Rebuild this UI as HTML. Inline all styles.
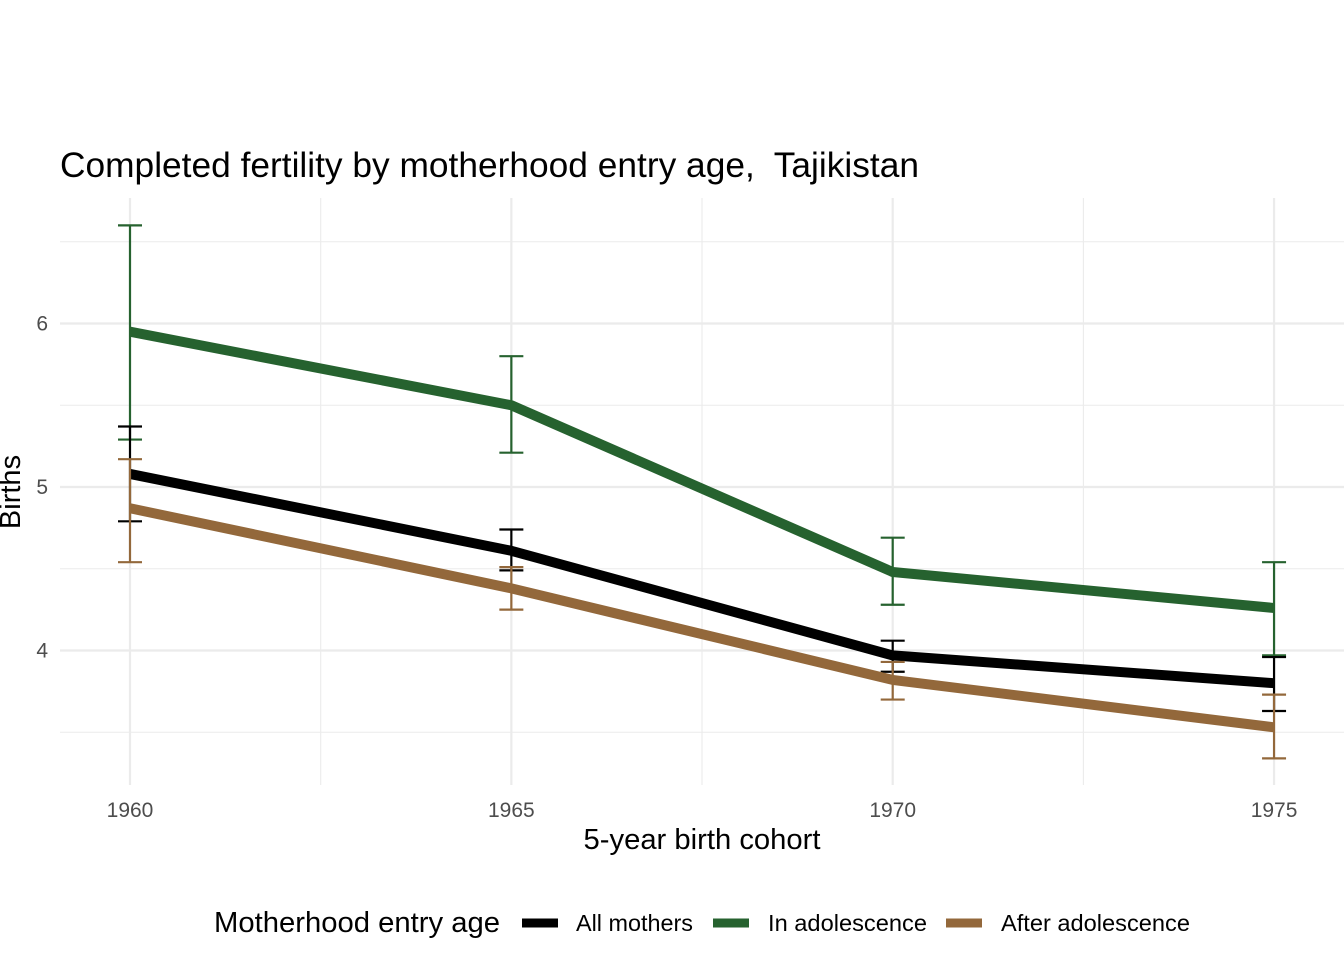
<!DOCTYPE html>
<html><head><meta charset="utf-8"><style>
body{margin:0;background:#fff;font-family:"Liberation Sans",Arial,sans-serif}
</style></head><body>
<svg id="chart" width="1344" height="960" xmlns="http://www.w3.org/2000/svg" font-family="Liberation Sans, Arial, sans-serif">
<rect width="1344" height="960" fill="#fff"/>
<text x="60" y="177" font-size="35.5" fill="#000" xml:space="preserve" textLength="859" lengthAdjust="spacingAndGlyphs">Completed fertility by motherhood entry age,  Tajikistan</text>
<g id="grid"></g>
<g id="marks"></g>
<g id="axes"></g>
<text x="702" y="849" font-size="29" text-anchor="middle" textLength="237" lengthAdjust="spacingAndGlyphs">5-year birth cohort</text>
<text transform="translate(20,492) rotate(-90)" font-size="29" text-anchor="middle">Births</text>
<g>
<text x="214" y="932" font-size="29" textLength="286" lengthAdjust="spacingAndGlyphs">Motherhood entry age</text>
<line x1="522" y1="923" x2="558" y2="923" stroke="#000" stroke-width="9"/>
<text x="576" y="931" font-size="23" textLength="117" lengthAdjust="spacingAndGlyphs">All mothers</text>
<line x1="713" y1="923" x2="749" y2="923" stroke="#26622f" stroke-width="9"/>
<text x="768" y="931" font-size="23" textLength="159" lengthAdjust="spacingAndGlyphs">In adolescence</text>
<line x1="946" y1="923" x2="982" y2="923" stroke="#93683b" stroke-width="9"/>
<text x="1001" y="931" font-size="23" textLength="189" lengthAdjust="spacingAndGlyphs">After adolescence</text>
</g>
</svg>
<script>
const cohorts=[1960,1965,1970,1975];
const allMothers=[5.08,4.61,3.97,3.80];
const allLo=[4.79,4.49,3.87,3.63];
const allHi=[5.37,4.74,4.06,3.96];
const adol=[5.95,5.50,4.48,4.26];
const adolLo=[5.29,5.21,4.28,3.97];
const adolHi=[6.60,5.80,4.69,4.54];
const after=[4.87,4.38,3.82,3.53];
const afterLo=[4.54,4.25,3.70,3.34];
const afterHi=[5.17,4.51,3.93,3.73];
const yTicks=[4,5,6];
const xTicks=[1960,1965,1970,1975];

const NS="http://www.w3.org/2000/svg";
const X=v=>130+(v-1960)*76.27;
const Y=v=>487-(v-5)*163.5;
function mk(parent,tag,attrs){const e=document.createElementNS(NS,tag);for(const k in attrs)e.setAttribute(k,attrs[k]);parent.appendChild(e);return e;}
const grid=document.getElementById('grid'),marks=document.getElementById('marks'),axes=document.getElementById('axes');
const px0=60,px1=1344,py0=198,py1=785;
for(let v=3.5;v<=6.5;v+=0.5){const l=mk(grid,'line',{x1:px0,x2:px1,y1:Y(v),y2:Y(v),stroke:'#ebebeb','stroke-width':Number.isInteger(v)?2.2:1.1});

}
for(let v=1957.5;v<=1977.5;v+=2.5){const xx=X(v);if(xx<px0||xx>px1)continue;const l=mk(grid,'line',{x1:xx,x2:xx,y1:py0,y2:py1,stroke:'#ebebeb','stroke-width':(v%5===0)?2.2:1.1});

}
yTicks.forEach(t=>{const e=mk(axes,'text',{x:48,y:Y(t)+7,'font-size':21,fill:'#4d4d4d','text-anchor':'end'});e.textContent=t;

});
xTicks.forEach(t=>{const e=mk(axes,'text',{x:X(t),y:817,'font-size':21,fill:'#4d4d4d','text-anchor':'middle'});e.textContent=t;

});
const series=[
 {name:'in-adolescence',v:adol,lo:adolLo,hi:adolHi,c:'#26622f'},
 {name:'all-mothers',v:allMothers,lo:allLo,hi:allHi,c:'#000'},
 {name:'after-adolescence',v:after,lo:afterLo,hi:afterHi,c:'#93683b'}];
series.forEach(s=>{
 const p=mk(marks,'polyline',{points:cohorts.map((c,i)=>X(c)+','+Y(s.v[i])).join(' '),fill:'none',stroke:s.c,'stroke-width':10,'stroke-linejoin':'round'});
 
 
 cohorts.forEach((c,i)=>{const g=mk(marks,'g',{stroke:s.c,'stroke-width':2.2});
  
  
  const x=X(c);
  mk(g,'line',{x1:x,x2:x,y1:Y(s.lo[i]),y2:Y(s.hi[i])});
  mk(g,'line',{x1:x-12,x2:x+12,y1:Y(s.lo[i]),y2:Y(s.lo[i])});
  mk(g,'line',{x1:x-12,x2:x+12,y1:Y(s.hi[i]),y2:Y(s.hi[i])});});
});
</script>
</body></html>
